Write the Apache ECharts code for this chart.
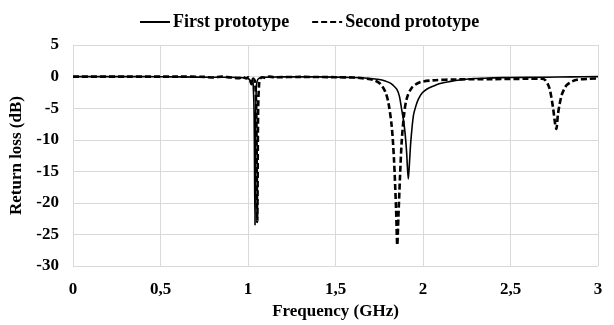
<!DOCTYPE html>
<html>
<head>
<meta charset="utf-8">
<script src="https://cdn.jsdelivr.net/npm/echarts@6/dist/echarts.min.js"></script>
<style>
html, body { margin: 0; padding: 0; background: #fff; }
#main { width: 614px; height: 325px; }
</style>
</head>
<body>
<div id="main"></div>
<script>
var seriesNames = ['First prototype', 'Second prototype']

// frequency (GHz) / return loss (dB)
var freq1 = [0, 0.2, 0.4, 0.6, 0.8, 0.9, 0.95, 0.98, 1.0, 1.01, 1.02, 1.025, 1.03, 1.035, 1.04, 1.044, 1.048, 1.055, 1.07, 1.1, 1.2, 1.4, 1.6, 1.7, 1.75, 1.78, 1.811, 1.83, 1.85, 1.865, 1.878, 1.888, 1.897, 1.906, 1.916, 1.923, 1.93, 1.945, 1.96, 1.973, 1.995, 2.021, 2.06, 2.097, 2.15, 2.22, 2.29, 2.4, 2.5, 2.7, 2.85, 3.0]
var loss1 = [0, 0, 0, -0.05, -0.1, -0.1, -0.15, -0.2, -0.3, -0.5, -0.9, -0.4, -1.5, -6, -23.5, -6, -1.5, -0.5, -0.2, -0.1, -0.05, -0.05, -0.15, -0.3, -0.45, -0.65, -1.0, -1.4, -2.0, -3.1, -5.2, -6.8, -8.8, -11.8, -16.2, -13.5, -10.4, -6.2, -4.6, -3.6, -2.6, -2.0, -1.5, -1.1, -0.8, -0.5, -0.3, -0.2, -0.15, -0.1, -0.05, 0]

var freq2 = [0, 0.3, 0.6, 0.75, 0.8, 0.85, 0.9, 0.95, 0.97, 0.99, 1.0, 1.01, 1.02, 1.03, 1.04, 1.047, 1.053, 1.058, 1.064, 1.07, 1.08, 1.1, 1.12, 1.15, 1.3, 1.5, 1.6, 1.65, 1.714, 1.754, 1.783, 1.802, 1.821, 1.834, 1.846, 1.853, 1.859, 1.869, 1.878, 1.891, 1.906, 1.935, 1.983, 2.057, 2.19, 2.4, 2.6, 2.68, 2.7, 2.715, 2.726, 2.743, 2.755, 2.762, 2.771, 2.782, 2.794, 2.81, 2.823, 2.85, 2.88, 2.95, 3.0]
var loss2 = [0, 0, 0, -0.05, -0.15, 0, -0.15, -0.25, -0.05, -0.3, -0.1, -0.4, -1.2, -0.3, -0.8, -5, -23, -5, -1.0, -0.3, -0.1, -0.2, 0, -0.1, -0.05, -0.1, -0.15, -0.25, -0.5, -1.1, -2.3, -4.1, -7.8, -13, -20.9, -26.7, -22.5, -15.6, -10.4, -6.2, -3.6, -1.8, -0.9, -0.6, -0.45, -0.4, -0.35, -0.35, -0.6, -1.3, -2.2, -4.9, -7.5, -8.3, -6, -4.2, -2.8, -1.8, -1.3, -0.8, -0.5, -0.35, -0.3]

var xTicks = [0, 0.5, 1, 1.5, 2, 2.5, 3]

function pairs(xs, ys) {
    var out = []
    for (var i = 0; i < xs.length; i++) {
        out.push([xs[i], ys[i]])
    }
    return out
}

var font = 'Liberation Serif'
var myChart = echarts.init(document.getElementById('main'))

option = {
    animation: false,
    textStyle: { fontFamily: font },
    legend: {
        top: 8,
        left: 134,
        itemWidth: 30,
        itemHeight: 14,
        itemGap: 22,
        itemStyle: { opacity: 0 },
        textStyle: { fontFamily: font, fontWeight: 'bold', fontSize: 18, color: '#000', padding: [0, 0, 0, -2] },
        data: seriesNames
    },
    grid: { left: 73, right: 16, top: 45, bottom: 57 },
    xAxis: {
        type: 'value',
        min: 0,
        max: 3,
        interval: 0.5,
        name: 'Frequency (GHz)',
        nameLocation: 'middle',
        nameGap: 36,
        nameTextStyle: { fontFamily: font, fontWeight: 'bold', fontSize: 17, color: '#000' },
        axisLine: { show: false },
        axisTick: { show: false },
        axisLabel: {
            margin: 15,
            fontFamily: font, fontWeight: 'bold', fontSize: 17, color: '#000',
            formatter: function (v) {
                return xTicks.indexOf(v) >= 0 ? String(v).replace('.', ',') : ''
            }
        },
        splitLine: { show: true, lineStyle: { color: '#d9d9d9', width: 1 } }
    },
    yAxis: {
        type: 'value',
        min: -30,
        max: 5,
        interval: 5,
        name: 'Return loss (dB)',
        nameLocation: 'middle',
        nameGap: 45,
        nameTextStyle: { fontFamily: font, fontWeight: 'bold', fontSize: 17, color: '#000' },
        axisLine: { show: false },
        axisTick: { show: false },
        axisLabel: { margin: 14, fontFamily: font, fontWeight: 'bold', fontSize: 17, color: '#000' },
        splitLine: { show: true, lineStyle: { color: '#d9d9d9', width: 1 } }
    },
    series: [
        {
            name: seriesNames[0],
            type: 'line',
            symbol: 'none',
            smooth: 0.3,
            lineStyle: { color: '#000', width: 1.6, type: 'solid' },
            itemStyle: { color: '#000' },
            data: pairs(freq1, loss1)
        },
        {
            name: seriesNames[1],
            type: 'line',
            symbol: 'none',
            smooth: 0.3,
            lineStyle: { color: '#000', width: 2.6, type: [6, 3] },
            itemStyle: { color: '#000' },
            data: pairs(freq2, loss2)
        }
    ]
}
myChart.setOption(option)
</script>
</body>
</html>
